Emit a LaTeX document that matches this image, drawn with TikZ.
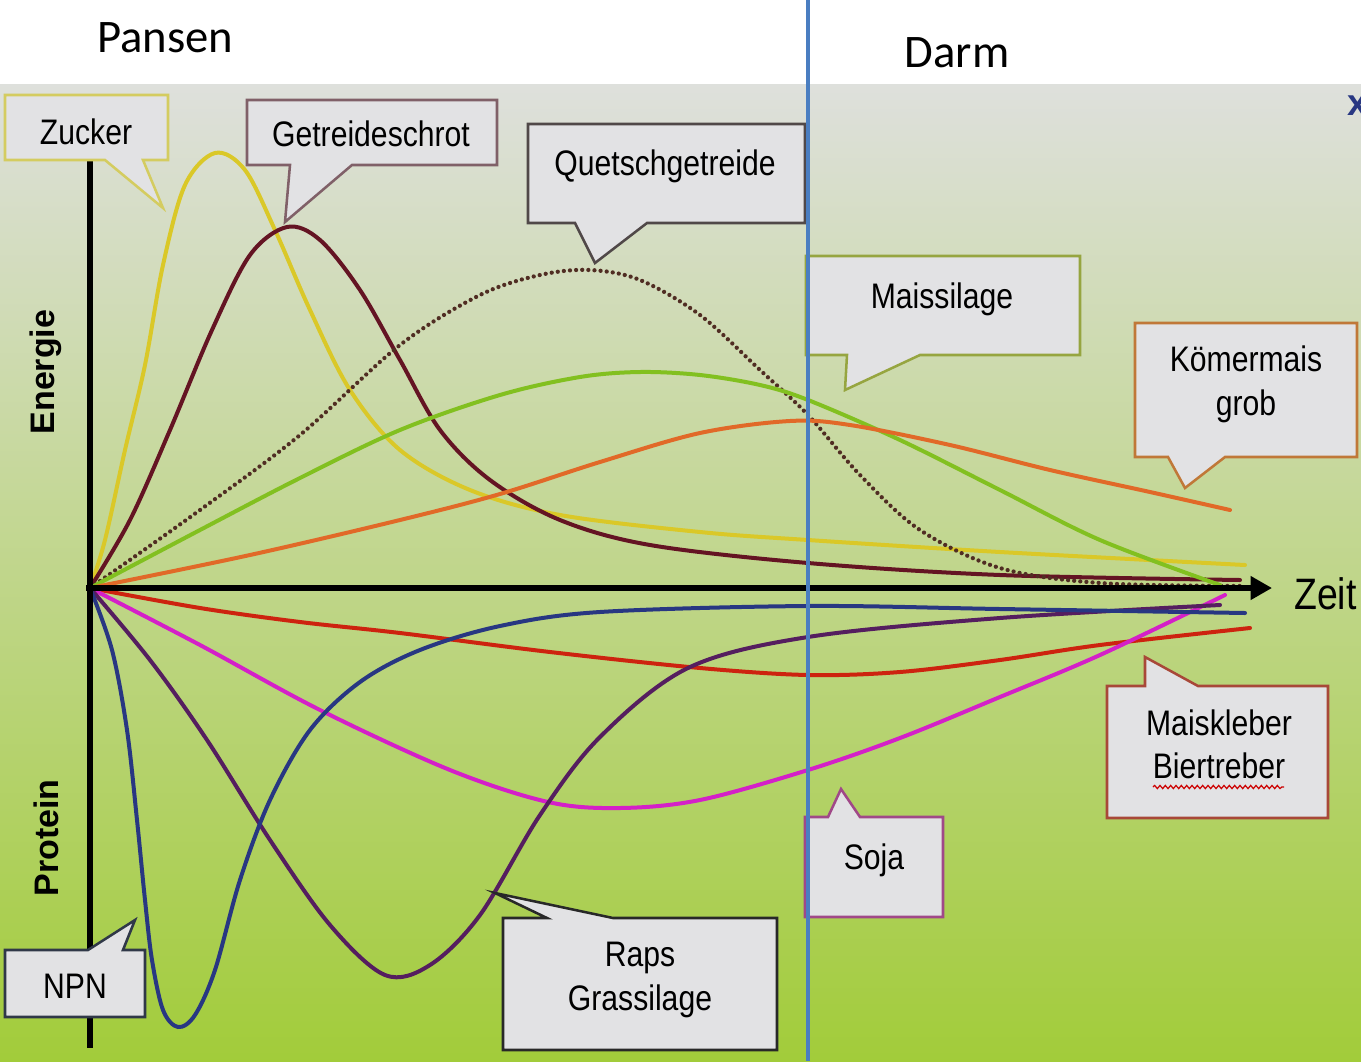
\documentclass[tikz,border=0pt]{standalone}
\usepackage{fontspec}
\setmainfont{Liberation Sans}
\newfontfamily\lblfont[FakeStretch=0.85]{Liberation Sans}
\newfontfamily\hdfont{Carlito}
\usetikzlibrary{arrows.meta,decorations.pathmorphing}
\definecolor{bgtop}{RGB}{222,224,220}
\definecolor{bgmid}{RGB}{200,216,160}
\definecolor{bgbot}{RGB}{162,204,58}
\definecolor{callfill}{RGB}{226,226,228}
\definecolor{yellowc}{RGB}{218,200,40}
\definecolor{maroonc}{RGB}{100,20,35}
\definecolor{dotc}{RGB}{80,45,35}
\definecolor{greenc}{RGB}{130,192,32}
\definecolor{orangec}{RGB}{225,105,40}
\definecolor{redc}{RGB}{205,35,15}
\definecolor{pinkc}{RGB}{212,32,200}
\definecolor{purplec}{RGB}{85,30,95}
\definecolor{bluec}{RGB}{40,55,130}
\definecolor{splitc}{RGB}{74,126,193}
\definecolor{bZucker}{RGB}{212,204,96}
\definecolor{bGetreide}{RGB}{128,96,104}
\definecolor{bQuetsch}{RGB}{80,72,72}
\definecolor{bMais}{RGB}{150,165,64}
\definecolor{bKoern}{RGB}{192,120,56}
\definecolor{bKleber}{RGB}{168,72,56}
\definecolor{bSoja}{RGB}{160,72,136}
\definecolor{bNPN}{RGB}{48,56,72}
\definecolor{bRaps}{RGB}{40,40,40}
\begin{document}
\begin{tikzpicture}[x=0.75pt,y=-0.75pt,
  callout/.style={line width=1.9pt, fill=callfill, line join=miter},
  lbl/.style={font=\lblfont\fontsize{26.6}{32}\selectfont, anchor=base, inner sep=0pt},
  hd/.style={font=\hdfont\fontsize{35}{40}\selectfont, anchor=base, inner sep=0pt},
  axlbl/.style={font=\bfseries\fontsize{25.5}{30}\selectfont, rotate=90, inner sep=0pt},
  curve/.style={line width=3pt, smooth, tension=0.55, line cap=round}]
\useasboundingbox (0,0) rectangle (1361,1061);
\begin{scope}
\clip (0,0) rectangle (1361,1061);
% background
\fill[white] (0,0) rectangle (1361,84);
\shade[top color=bgtop, middle color=bgmid, bottom color=bgbot] (0,84) rectangle (1361,1061);
\node[font=\bfseries\fontsize{28}{30}\selectfont, text=bluec, anchor=west, inner sep=0pt] (xglyph) at (1347,106) {x};
% energy curves
\draw[curve, yellowc] plot coordinates {(90,588) (105,540) (125,450) (145,365) (163,265) (185,185) (215,153) (245,170) (275,230) (310,310) (350,390) (400,450) (470,490) (560,515) (700,532) (808,540) (1000,552) (1245,565)};
\draw[curve, maroonc] plot coordinates {(90,588) (130,520) (170,430) (212,330) (250,255) (287,227) (320,240) (360,290) (400,360) (440,430) (490,480) (560,520) (650,545) (808,563) (1000,575) (1240,580)};
\draw[curve, dotc, line width=3.2pt, dash pattern=on 0pt off 4.6pt] plot coordinates {(90,588) (200,510) (300,435) (400,345) (480,295) (540,275) (590,270) (640,280) (700,315) (760,370) (808,415) (860,475) (920,530) (1000,568) (1100,583) (1240,586)};
\draw[curve, greenc] plot coordinates {(90,588) (200,530) (300,478) (400,430) (500,395) (580,377) (640,372) (700,375) (760,385) (808,400) (900,440) (1000,490) (1100,540) (1220,585)};
\draw[curve, orangec] plot coordinates {(90,588) (250,555) (400,520) (500,494) (600,462) (700,433) (790,421) (850,425) (950,445) (1050,470) (1150,492) (1230,510)};
% protein curves
\draw[curve, redc] plot coordinates {(90,588) (200,608) (300,622) (400,633) (550,652) (700,668) (808,675) (900,672) (1000,660) (1100,645) (1250,628)};
\draw[curve, pinkc] plot coordinates {(90,588) (200,645) (320,710) (450,770) (548,802) (620,808) (700,800) (808,770) (900,738) (1000,697) (1100,655) (1225,595)};
\draw[curve, purplec] plot coordinates {(90,588) (150,660) (207,740) (270,840) (330,925) (385,975) (430,965) (480,915) (540,815) (600,737) (688,668) (808,637) (1000,618) (1220,605)};
\draw[curve, bluec] plot coordinates {(90,588) (112,650) (127,730) (137,820) (145,900) (152,960) (163,1010) (178,1027) (195,1015) (215,970) (240,880) (270,800) (310,730) (360,682) (420,650) (500,626) (600,612) (808,606) (1000,609) (1245,613)};
% axes
\coordinate (O) at (90,588);
\coordinate (ytop) at (90,160);
\coordinate (ybot) at (90,1048);
\coordinate (xend) at (1272,588);
\draw[line width=3.8pt] (ytop) -- (ybot);
\draw[line width=3.8pt, -{Triangle[length=16pt,width=17pt]}] (86,588) -- (xend);
\node[font=\lblfont\fontsize{33}{36}\selectfont, anchor=base west, inner sep=0pt] (zeit) at (1294,609) {Zeit};
\node[axlbl] (energie) at (46,372) {Energie};
\node[axlbl] (protein) at (46,838) {Protein};
% callouts
\draw[callout, draw=bZucker] (5,95) -- (168,95) -- (168,160) -- (143,160) -- (163,208) -- (105,160) -- (5,160) -- cycle;
\node[lbl] (zucker) at (86,144) {Zucker};
\draw[callout, draw=bGetreide] (247,100) -- (497,100) -- (497,165) -- (352,165) -- (285,222) -- (290,165) -- (247,165) -- cycle;
\node[lbl] (getreide) at (371,146) {Getreideschrot};
\draw[callout, draw=bQuetsch] (528,124) -- (805,124) -- (805,223) -- (647,223) -- (595,263) -- (575,223) -- (528,223) -- cycle;
\node[lbl] (quetsch) at (665,175) {Quetschgetreide};
\draw[callout, draw=bMais] (806,256) -- (1080,256) -- (1080,355) -- (920,355) -- (845,390) -- (847,355) -- (806,355) -- cycle;
\node[lbl] (maissilage) at (942,308) {Maissilage};
\draw[callout, draw=bKoern] (1135,323) -- (1357,323) -- (1357,457) -- (1225,457) -- (1185,488) -- (1168,457) -- (1135,457) -- cycle;
\node[lbl] (koern1) at (1246,371) {Kömermais};
\node[lbl] (koern2) at (1246,415) {grob};
\draw[callout, draw=bKleber] (1107,686) -- (1145,686) -- (1145,657) -- (1198,686) -- (1328,686) -- (1328,818) -- (1107,818) -- cycle;
\node[lbl] (kleber1) at (1219,735) {Maiskleber};
\node[lbl] (kleber2) at (1219,778) {Biertreber};
\draw[red!80!black, line width=0.9pt, decorate, decoration={snake, amplitude=1.2pt, segment length=4pt}] (1153,787) -- (1284,787);
\draw[callout, draw=bSoja] (805,817) -- (828,817) -- (841,789) -- (860,817) -- (943,817) -- (943,917) -- (805,917) -- cycle;
\node[lbl] (soja) at (874,869) {Soja};
\draw[callout, draw=bNPN] (5,950) -- (88,950) -- (135,920) -- (123,950) -- (145,950) -- (145,1017) -- (5,1017) -- cycle;
\node[lbl] (npn) at (75,998) {NPN};
\draw[callout, draw=bRaps] (503,918) -- (547,918) -- (495,893) -- (613,918) -- (777,918) -- (777,1050) -- (503,1050) -- cycle;
\node[lbl] (raps1) at (640,966) {Raps};
\node[lbl] (raps2) at (640,1010) {Grassilage};
% header
\node[hd] (pansen) at (165,52) {Pansen};
\node[hd] (darm) at (957,67) {Darm};
% split line
\coordinate (stop) at (808,0);
\coordinate (sbot) at (808,1061);
\draw[splitc, line width=3pt] (stop) -- (sbot);
\end{scope}
\end{tikzpicture}
\end{document}
